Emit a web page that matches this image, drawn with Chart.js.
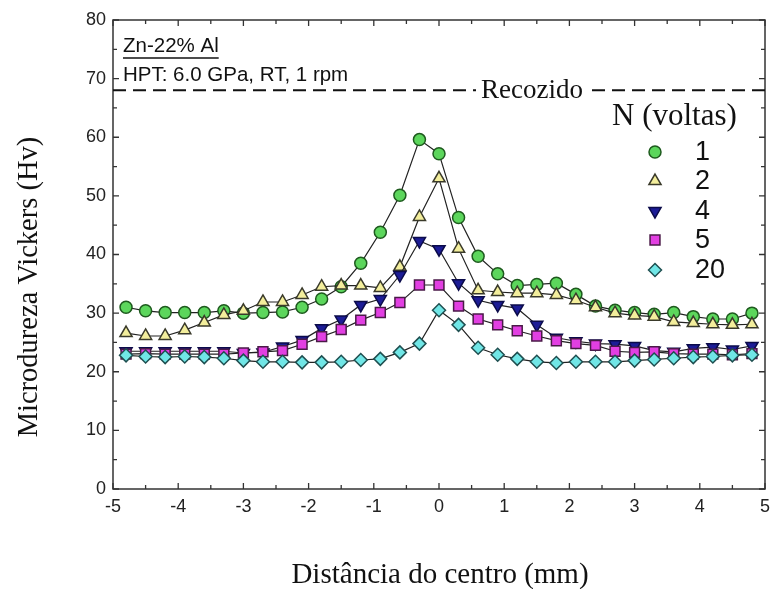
<!DOCTYPE html>
<html>
<head>
<meta charset="utf-8">
<script src="https://cdn.jsdelivr.net/npm/chart.js@4.4.0/dist/chart.umd.min.js"></script>
<style>
  html, body { margin: 0; padding: 0; background: #fff; }
  #wrap { width: 771px; height: 589px; }
</style>
</head>
<body>
<div id="wrap"><canvas id="hv" width="771" height="589"></canvas></div>
<script>
// distance from the centre (mm)
var distancia = [-4.8, -4.5, -4.2, -3.9, -3.6, -3.3, -3.0, -2.7, -2.4, -2.1, -1.8,
  -1.5, -1.2, -0.9, -0.6, -0.3, 0, 0.3, 0.6, 0.9, 1.2, 1.5, 1.8, 2.1, 2.4, 2.7,
  3.0, 3.3, 3.6, 3.9, 4.2, 4.5, 4.8];

// microhardness per number of turns
var hv1 = [31.0, 30.4, 30.1, 30.1, 30.1, 30.4, 30.0, 30.1, 30.2, 31.0, 32.4,
  34.5, 38.5, 43.8, 50.1, 59.6, 57.2, 46.3, 39.7, 36.7, 34.7, 34.9, 35.1, 33.2,
  31.2, 30.5, 30.1, 29.8, 30.1, 29.4, 29.0, 29.0, 30.0];
var hv2 = [26.6, 26.1, 26.1, 27.1, 28.4, 29.7, 30.4, 31.9, 31.9, 33.1, 34.5,
  34.7, 34.7, 34.3, 37.9, 46.4, 53.0, 41.0, 33.9, 33.6, 33.4, 33.4, 33.1, 32.2,
  31.0, 30.0, 29.6, 29.4, 28.5, 28.3, 28.1, 28.0, 28.1];
var hv4 = [23.5, 23.5, 23.5, 23.5, 23.5, 23.5, 23.2, 23.3, 24.3, 25.4, 27.4,
  28.9, 31.4, 32.4, 36.5, 42.3, 40.9, 35.1, 32.2, 31.4, 30.8, 28.0, 25.8, 25.2,
  24.8, 24.7, 24.4, 23.6, 23.4, 24.0, 24.2, 23.8, 24.4];
var hv5 = [23.0, 23.1, 23.0, 23.0, 23.0, 23.0, 23.2, 23.4, 23.6, 24.7, 26.0,
  27.2, 28.8, 30.1, 31.8, 34.8, 34.8, 31.2, 29.0, 28.0, 27.0, 26.1, 25.3, 24.8,
  24.5, 23.5, 23.3, 23.4, 23.1, 23.0, 23.0, 22.9, 23.1];
var hv20 = [22.8, 22.6, 22.5, 22.6, 22.5, 22.3, 21.9, 21.7, 21.7, 21.6, 21.6,
  21.7, 22.0, 22.2, 23.3, 24.8, 30.5, 28.0, 24.1, 22.9, 22.2, 21.7, 21.5, 21.7,
  21.7, 21.7, 21.9, 22.1, 22.3, 22.5, 22.6, 22.8, 22.9];

var voltas = ["1", "2", "4", "5", "20"];
var recozido = 68;

var xTicks = [-5, -4, -3, -2, -1, 0, 1, 2, 3, 4, 5];
var yTicks = [0, 10, 20, 30, 40, 50, 60, 70, 80];

var SERIF = "'Liberation Serif', 'Times New Roman', serif";
var SANS = "'Liberation Sans', Arial, sans-serif";

function pts(ys) {
  return ys.map(function (y, i) { return { x: distancia[i], y: y }; });
}

var estilos = [
  { pointStyle: "circle", radius: 6, rotation: 0, fill: "#5cd65c", border: "#1e5a1e" },
  { pointStyle: "triangle", radius: 7, rotation: 0, fill: "#f3ee9c", border: "#3a3a2a" },
  { pointStyle: "triangle", radius: 7, rotation: 180, fill: "#1c1c96", border: "#0b0b4a" },
  { pointStyle: "rect", radius: 7, rotation: 0, fill: "#e23fe2", border: "#4a1a48" },
  { pointStyle: "rectRot", radius: 6.5, rotation: 0, fill: "#70e6e6", border: "#1f4f50" }
];
var series = [hv1, hv2, hv4, hv5, hv20];

var datasets = series.map(function (s, k) {
  var e = estilos[k];
  return {
    label: voltas[k],
    data: pts(s),
    borderColor: "#222",
    borderWidth: 1.2,
    pointStyle: e.pointStyle,
    pointRadius: e.radius,
    pointRotation: e.rotation,
    pointBackgroundColor: e.fill,
    pointBorderColor: e.border,
    pointBorderWidth: 1.5,
    tension: 0,
    fill: false
  };
});
// low series first so the peaks sit on top
datasets.reverse();

var moldura = {
  id: "moldura",
  afterDraw: function (chart) {
    var ctx = chart.ctx;
    var a = chart.chartArea;
    var xs = chart.scales.x, ys = chart.scales.y;
    ctx.save();

    // box
    ctx.strokeStyle = "#333";
    ctx.lineWidth = 1.5;
    ctx.strokeRect(a.left, a.top, a.right - a.left, a.bottom - a.top);

    // inward ticks on all four sides
    ctx.lineWidth = 1.3;
    ctx.beginPath();
    for (var v = -5; v <= 5.001; v += 0.5) {
      var px = xs.getPixelForValue(v);
      var len = Math.abs(v - Math.round(v)) < 0.01 ? 6 : 4;
      ctx.moveTo(px, a.bottom); ctx.lineTo(px, a.bottom - len);
      ctx.moveTo(px, a.top); ctx.lineTo(px, a.top + len);
    }
    for (var w = 0; w <= 80; w += 5) {
      var py = ys.getPixelForValue(w);
      var l2 = w % 10 === 0 ? 6 : 4;
      ctx.moveTo(a.left, py); ctx.lineTo(a.left + l2, py);
      ctx.moveTo(a.right, py); ctx.lineTo(a.right - l2, py);
    }
    ctx.stroke();

    // annealed reference line
    var yr = ys.getPixelForValue(recozido);
    ctx.strokeStyle = "#111";
    ctx.lineWidth = 2;
    ctx.setLineDash([13, 7]);
    ctx.beginPath();
    ctx.moveTo(a.left, yr); ctx.lineTo(476, yr);
    ctx.moveTo(592, yr); ctx.lineTo(a.right, yr);
    ctx.stroke();
    ctx.setLineDash([]);

    ctx.fillStyle = "#111";
    ctx.textBaseline = "middle";
    ctx.textAlign = "left";
    ctx.font = "27px " + SERIF;
    ctx.fillText("Recozido", 481, yr + 1);

    // material / process notes
    ctx.font = "20.5px " + SANS;
    ctx.fillText("Zn-22% Al", 123, 46);
    var wz = ctx.measureText("Zn-22% Al").width;
    ctx.lineWidth = 1.3;
    ctx.beginPath();
    ctx.moveTo(123, 58); ctx.lineTo(123 + wz, 58);
    ctx.stroke();
    ctx.fillText("HPT: 6.0 GPa, RT, 1 rpm", 123, 75);

    // legend
    ctx.font = "31px " + SERIF;
    ctx.fillText("N (voltas)", 612, 117);
    var rows = [152, 181, 211, 240, 270];
    ctx.font = "27px " + SANS;
    for (var k = 0; k < voltas.length; k++) {
      var e = estilos[k];
      ctx.fillStyle = e.fill;
      ctx.strokeStyle = e.border;
      ctx.lineWidth = 1.5;
      Chart.helpers.drawPoint(ctx, {
        pointStyle: e.pointStyle, radius: e.radius, rotation: e.rotation, borderWidth: 1.5
      }, 655, rows[k]);
      ctx.fillStyle = "#111";
      ctx.fillText(voltas[k], 695, rows[k] + 1);
    }

    // axis titles
    ctx.font = "29px " + SERIF;
    ctx.textAlign = "center";
    ctx.fillText("Distância do centro (mm)", 440, 575);
    ctx.translate(30, 287);
    ctx.rotate(-Math.PI / 2);
    ctx.font = "28.5px " + SERIF;
    ctx.fillText("Microdureza Vickers (Hv)", 0, 0);
    ctx.restore();
  }
};

new Chart(document.getElementById("hv"), {
  type: "line",
  data: { datasets: datasets },
  options: {
    responsive: false,
    animation: false,
    layout: { autoPadding: false, padding: { top: 20, right: 6, left: 0, bottom: 0 } },
    plugins: { legend: { display: false }, tooltip: { enabled: false } },
    scales: {
      x: {
        type: "linear",
        min: -5, max: 5,
        afterBuildTicks: function (s) { s.ticks = xTicks.map(function (v) { return { value: v }; }); },
        afterFit: function (s) { s.height = 100; s.paddingLeft = 0; s.paddingRight = 0; },
        grid: { display: false, drawTicks: false },
        border: { display: false },
        ticks: { color: "#222", padding: 7, font: { family: SANS, size: 18 } }
      },
      y: {
        min: 0, max: 80,
        afterBuildTicks: function (s) { s.ticks = yTicks.map(function (v) { return { value: v }; }); },
        afterFit: function (s) { s.width = 113; s.paddingTop = 0; s.paddingBottom = 0; },
        grid: { display: false, drawTicks: false },
        border: { display: false },
        ticks: { color: "#222", padding: 7, font: { family: SANS, size: 18 } }
      }
    }
  },
  plugins: [moldura]
});
</script>
</body>
</html>
